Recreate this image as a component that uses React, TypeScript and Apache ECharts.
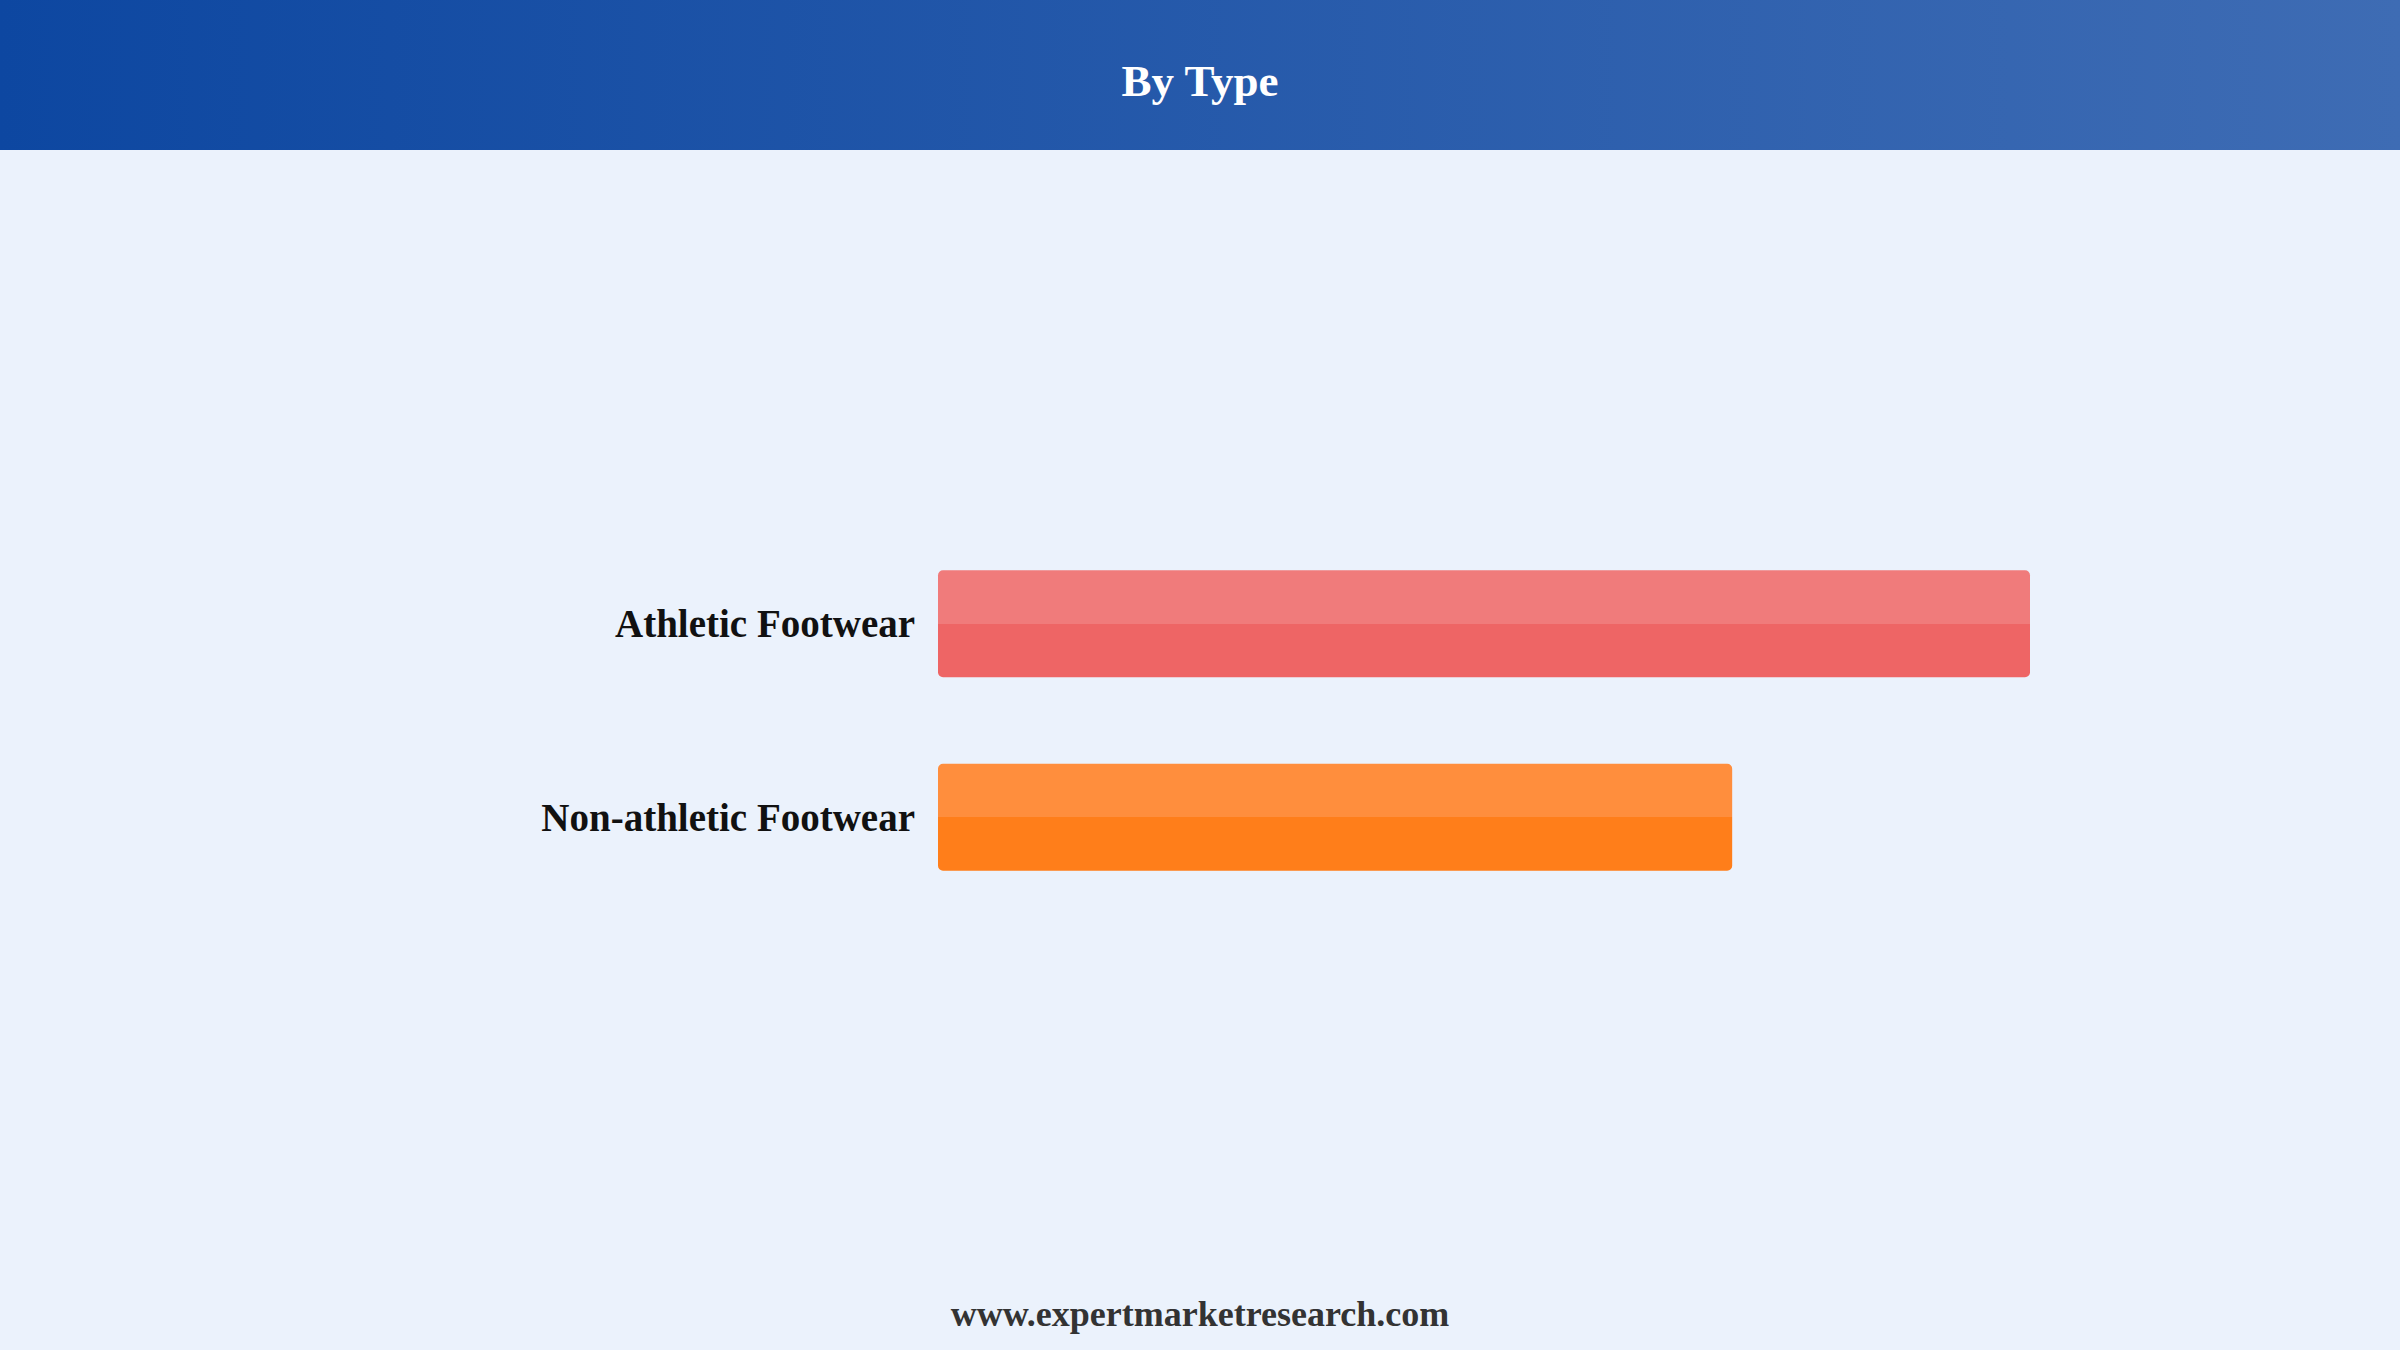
import React, { useEffect, useRef } from 'react';
import * as echarts from 'echarts';

const titleText = 'By Type';
const footerText = 'www.expertmarketresearch.com';
const categories = ['Athletic Footwear', 'Non-athletic Footwear'];
const values = [55, 40];
const lightColors = ['#F07B7B', '#FF8E3D'];
const darkColors = ['#EE6565', '#FF7E1A'];

const serif = '"Liberation Serif", "Times New Roman", serif';

const App: React.FC = () => {
    const chartRef = useRef<HTMLDivElement>(null);

    useEffect(() => {
        const chartDom = chartRef.current!;
        const myChart = echarts.init(chartDom, undefined, { renderer: 'svg' });

        const option: echarts.EChartsOption = {
            animation: false,
            backgroundColor: '#EBF2FC',
            graphic: [
                {
                    type: 'rect',
                    left: 0,
                    top: 0,
                    shape: { width: 2400, height: 150 },
                    style: {
                        fill: new echarts.graphic.LinearGradient(0, 0, 1, 0, [
                            { offset: 0, color: '#0D47A1' },
                            { offset: 1, color: '#3E6CB4' },
                        ]),
                    },
                    silent: true,
                },
                {
                    type: 'text',
                    x: 1200,
                    y: 81,
                    style: {
                        text: titleText,
                        fill: '#FFFFFF',
                        font: `bold 45px ${serif}`,
                        textAlign: 'center',
                        textVerticalAlign: 'middle',
                    },
                },
                {
                    type: 'text',
                    x: 1200,
                    y: 1314,
                    style: {
                        text: footerText,
                        fill: '#333333',
                        font: `bold 36px ${serif}`,
                        textAlign: 'center',
                        textVerticalAlign: 'middle',
                    },
                },
            ],
            grid: { left: 938, right: 370, top: 527, bottom: 436 },
            xAxis: {
                type: 'value',
                min: 0,
                max: 55,
                show: false,
            },
            yAxis: {
                type: 'category',
                data: categories,
                inverse: true,
                axisLine: { show: false },
                axisTick: { show: false },
                splitLine: { show: false },
                axisLabel: {
                    margin: 23,
                    fontSize: 39,
                    fontWeight: 'bold',
                    fontFamily: serif,
                    color: '#111111',
                },
            },
            series: [
                {
                    type: 'bar',
                    barWidth: 107,
                    data: values.map((v, i) => ({
                        value: v,
                        itemStyle: {
                            borderRadius: 5,
                            color: new echarts.graphic.LinearGradient(0, 0, 0, 1, [
                                { offset: 0, color: lightColors[i] },
                                { offset: 0.5, color: lightColors[i] },
                                { offset: 0.5, color: darkColors[i] },
                                { offset: 1, color: darkColors[i] },
                            ]),
                        },
                    })),
                },
            ],
        };

        myChart.setOption(option);

        const resizeObserver = new ResizeObserver(() => {
            myChart.resize();
        });
        resizeObserver.observe(chartDom);

        return () => {
            myChart.dispose();
            resizeObserver.disconnect();
        };
    }, []);

    return (
        <div
            ref={chartRef}
            style={{ position: 'fixed', left: 0, top: 0, width: '100vw', height: '100vh' }}
        />
    );
};

export default App;
